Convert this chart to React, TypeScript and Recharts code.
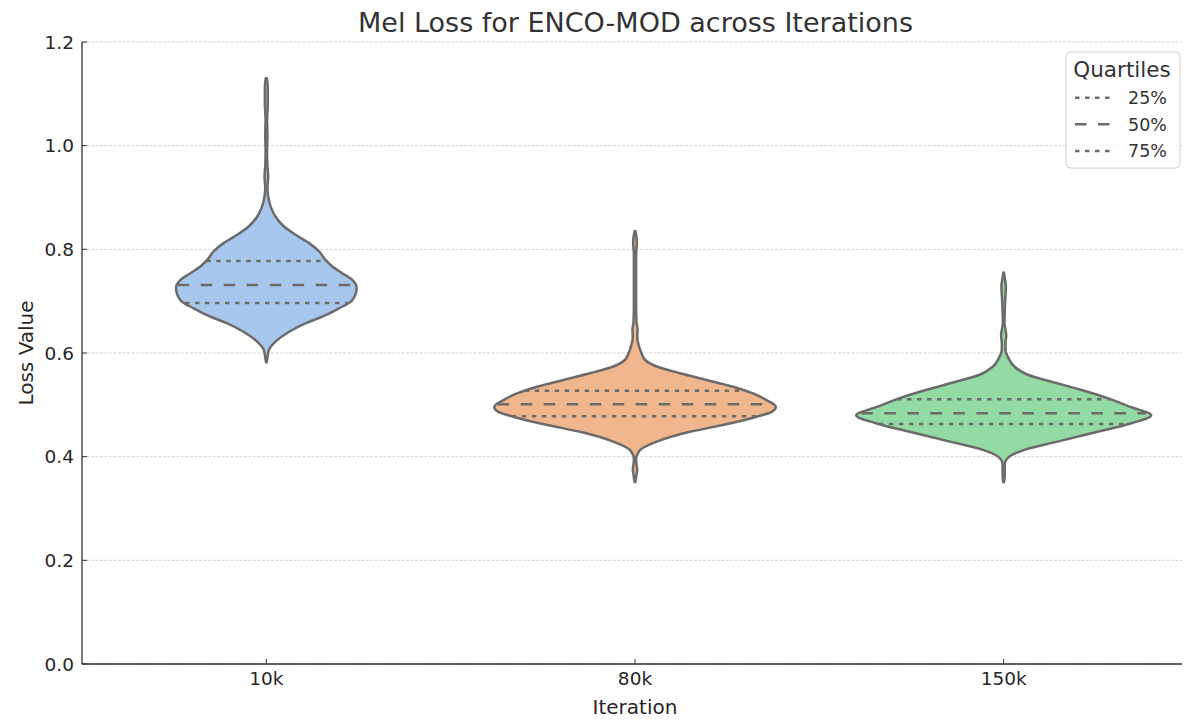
import React from 'react';
import { ComposedChart, Area, XAxis, YAxis, CartesianGrid, ReferenceLine } from 'recharts';

const categories = ['10k', '80k', '150k'];
const yTicks = [0, 0.2, 0.4, 0.6, 0.8, 1.0, 1.2];
const fills = ['#a7c8ec', '#f0b68e', '#93daa4'];

// [loss value, half-width of the density outline in category units]
const violin10k: [number, number][] = [
  [0.58, 0], [0.587, 0.002], [0.606, 0.007], [0.622, 0.025], [0.641, 0.062], [0.657, 0.106],
  [0.67, 0.152], [0.686, 0.197], [0.702, 0.233], [0.725, 0.245], [0.741, 0.233], [0.754, 0.206],
  [0.767, 0.179], [0.779, 0.161], [0.796, 0.143], [0.812, 0.116], [0.828, 0.079], [0.844, 0.048],
  [0.863, 0.025], [0.882, 0.012], [0.902, 0.005], [0.92, 0.003], [0.94, 0.005], [0.96, 0.003],
  [0.99, 0.002], [1.02, 0.003], [1.05, 0.002], [1.08, 0.004], [1.11, 0.004], [1.128, 0.002], [1.132, 0],
];
const violin80k: [number, number][] = [
  [0.349, 0], [0.355, 0.002], [0.365, 0.004], [0.375, 0.006], [0.385, 0.004], [0.395, 0.003],
  [0.401, 0.004], [0.407, 0.008], [0.413, 0.014], [0.429, 0.059], [0.448, 0.149], [0.461, 0.238],
  [0.477, 0.33], [0.487, 0.372], [0.496, 0.382], [0.509, 0.357], [0.522, 0.32], [0.535, 0.266],
  [0.548, 0.194], [0.561, 0.122], [0.574, 0.059], [0.587, 0.027], [0.599, 0.018], [0.615, 0.01],
  [0.631, 0.006], [0.645, 0.007], [0.66, 0.004], [0.7, 0.003], [0.75, 0.003], [0.79, 0.003],
  [0.812, 0.005], [0.828, 0.003], [0.837, 0],
];
const violin150k: [number, number][] = [
  [0.349, 0], [0.355, 0.002], [0.37, 0.003], [0.385, 0.003], [0.39, 0.004], [0.4, 0.015],
  [0.413, 0.056], [0.429, 0.146], [0.448, 0.255], [0.464, 0.344], [0.48, 0.4], [0.496, 0.344],
  [0.513, 0.282], [0.529, 0.209], [0.545, 0.128], [0.558, 0.065], [0.574, 0.029], [0.593, 0.011],
  [0.606, 0.005], [0.62, 0.005], [0.633, 0.007], [0.645, 0.005], [0.658, 0.002], [0.68, 0.003],
  [0.7, 0.004], [0.728, 0.006], [0.745, 0.003], [0.757, 0],
];

const quartiles10k = [0.6965, 0.731, 0.7775];
const quartiles80k = [0.478, 0.501, 0.527];
const quartiles150k = [0.463, 0.484, 0.511];
const quartileNames = ['25%', '50%', '75%'];

const violins = [violin10k, violin80k, violin150k];
const quartiles = [quartiles10k, quartiles80k, quartiles150k];

const violinData = violins.map((prof, i) =>
  prof.map(([y, w]) => ({ y, range: [i - w, i + w] }))
);

const widthAt = (prof: [number, number][], q: number) => {
  for (let k = 0; k < prof.length - 1; k++) {
    const [y0, w0] = prof[k];
    const [y1, w1] = prof[k + 1];
    if (q >= y0 && q <= y1) return w0 + ((q - y0) / (y1 - y0)) * (w1 - w0);
  }
  return 0;
};

const OUTLINE = '#6b6b6b';
const DOT = '4.5 5.5';
const DASH = '11.5 11.5';
const FONT = 'DejaVu Sans';
const dashFor = (k: number) => (k === 1 ? DASH : DOT);

export default function App() {
  return (
    <div style={{ position: 'relative', width: 1182, height: 714, fontFamily: FONT }}>
      <ComposedChart
        width={1182}
        height={714}
        layout="vertical"
        margin={{ top: 34, right: 2, bottom: 0, left: 0 }}
      >
        <CartesianGrid vertical={false} stroke="#cfcfcf" strokeDasharray="3 1.5" strokeWidth={0.9} />
        <XAxis
          type="number"
          domain={[-0.5, 2.5]}
          ticks={[0, 1, 2]}
          allowDataOverflow
          tickFormatter={(v: number) => categories[v]}
          height={58}
          tickSize={-5}
          tickMargin={13}
          axisLine={{ stroke: '#333', strokeWidth: 1.3 }}
          tickLine={{ stroke: '#333', strokeWidth: 1 }}
          tick={{ fill: '#262626', fontSize: 18.5, fontFamily: FONT }}
        />
        <YAxis
          type="number"
          dataKey="y"
          domain={[0, 1.2]}
          ticks={yTicks}
          allowDataOverflow
          reversed
          width={74}
          tickFormatter={(v: number) => v.toFixed(1)}
          tickSize={-5}
          tickMargin={13}
          axisLine={{ stroke: '#333', strokeWidth: 1.3 }}
          tickLine={{ stroke: '#333', strokeWidth: 1 }}
          tick={{ fill: '#262626', fontSize: 18.5, fontFamily: FONT }}
        />
        {violinData.map((d, i) => (
          <Area
            key={categories[i]}
            data={d}
            dataKey="range"
            type="monotone"
            fill={fills[i]}
            fillOpacity={1}
            stroke={OUTLINE}
            strokeWidth={2.5}
            dot={false}
            activeDot={false}
            isAnimationActive={false}
          />
        ))}
        {quartiles.map((qs, i) =>
          qs.map((q, k) => {
            const w = widthAt(violins[i], q);
            return (
              <ReferenceLine
                key={`${i}-${k}`}
                segment={[{ x: i - w, y: q }, { x: i + w, y: q }]}
                stroke={OUTLINE}
                strokeWidth={2.5}
                strokeDasharray={dashFor(k)}
                ifOverflow="visible"
              />
            );
          })
        )}
      </ComposedChart>
      <svg
        width={1182}
        height={714}
        style={{ position: 'absolute', left: 0, top: 0, pointerEvents: 'none' }}
        fontFamily={FONT}
      >
        <text x={627.5} y={24.3} textAnchor="middle" fontSize={27} fill="#333">
          Mel Loss for ENCO-MOD across Iterations
        </text>
        <text x={627} y={706} textAnchor="middle" fontSize={20} fill="#262626">
          Iteration
        </text>
        <text
          x={24.5}
          y={345}
          textAnchor="middle"
          fontSize={20}
          fill="#262626"
          transform="rotate(-90 24.5 345)"
        >
          Loss Value
        </text>
        <g>
          <rect x={1058} y={44} width={114} height={116} rx={4} fill="#fff" fillOpacity={0.8} stroke="#d0d0d0" strokeWidth={1} />
          <text x={1114} y={68.7} textAnchor="middle" fontSize={21.5} fill="#333">
            Quartiles
          </text>
          {quartileNames.map((name, k) => (
            <g key={name}>
              <line
                x1={1067}
                x2={1104}
                y1={89.7 + k * 26.6}
                y2={89.7 + k * 26.6}
                stroke={OUTLINE}
                strokeWidth={2.5}
                strokeDasharray={dashFor(k)}
              />
              <text x={1120} y={96 + k * 26.6} fontSize={17.5} fill="#333">
                {name}
              </text>
            </g>
          ))}
        </g>
      </svg>
    </div>
  );
}
